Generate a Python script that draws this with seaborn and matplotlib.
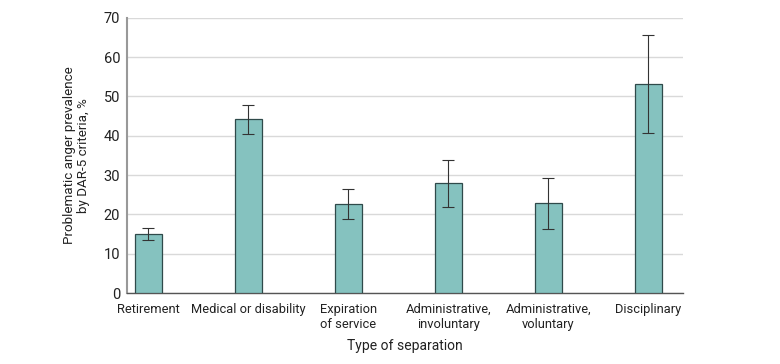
import pandas as pd
import numpy as np
import matplotlib.pyplot as plt
import seaborn as sns

categories = ["Retirement", "Medical or disability", "Expiration\nof service",
              "Administrative,\ninvoluntary", "Administrative,\nvoluntary", "Disciplinary"]
prevalence = [15.0, 44.2, 22.6, 28.0, 22.8, 53.1]
ci_low = [13.5, 40.4, 18.8, 21.8, 16.3, 40.6]
ci_high = [16.5, 47.8, 26.4, 33.9, 29.3, 65.7]

df = pd.DataFrame({"type": categories, "prev": prevalence,
                   "lo": ci_low, "hi": ci_high})

sns.set_style("white")
plt.rcParams['font.family'] = ['Roboto', 'DejaVu Sans']
plt.rcParams['text.color'] = '#222222'
plt.rcParams['axes.labelcolor'] = '#222222'
plt.rcParams['xtick.color'] = '#222222'
plt.rcParams['ytick.color'] = '#222222'

fig = plt.figure(figsize=(7.8, 3.64), dpi=100)
ax = fig.add_axes([0.163, 0.195, 0.713, 0.756])

sns.barplot(data=df, x="type", y="prev", color="#85c2bf", saturation=1,
            width=0.27, edgecolor="#2f4a4a", linewidth=0.9, errorbar=None, ax=ax, zorder=3)

xs = np.arange(len(df))
ax.errorbar(xs, df["prev"], yerr=[df["prev"] - df["lo"], df["hi"] - df["prev"]],
            fmt="none", ecolor="#333333", elinewidth=0.8, capsize=4, capthick=0.8, zorder=4)

ax.set_ylim(0, 70)
ax.set_xlim(-0.21, 5.35)
ax.set_yticks(range(0, 71, 10))
ax.yaxis.grid(True, color="#d9d9d9", linewidth=1, zorder=0)
ax.set_axisbelow(True)

for s in ["top", "right"]:
    ax.spines[s].set_visible(False)
ax.spines["left"].set_color("#999999")
ax.spines["left"].set_linewidth(1.5)
ax.spines["bottom"].set_color("#555555")
ax.spines["bottom"].set_linewidth(1)

ax.tick_params(axis="y", length=4, width=0.8, color="#555555", labelsize=10.5, pad=1)
ax.tick_params(axis="x", length=0, labelsize=9.3, pad=7)
for lbl in ax.get_xticklabels():
    lbl.set_linespacing(1.2)

ax.set_xlabel("Type of separation", fontsize=10, labelpad=6)
ax.set_ylabel("Problematic anger prevalence\nby DAR-5 criteria, %", fontsize=9.6, labelpad=10,
              linespacing=1.1)

fig.savefig("out.png", dpi=100)
